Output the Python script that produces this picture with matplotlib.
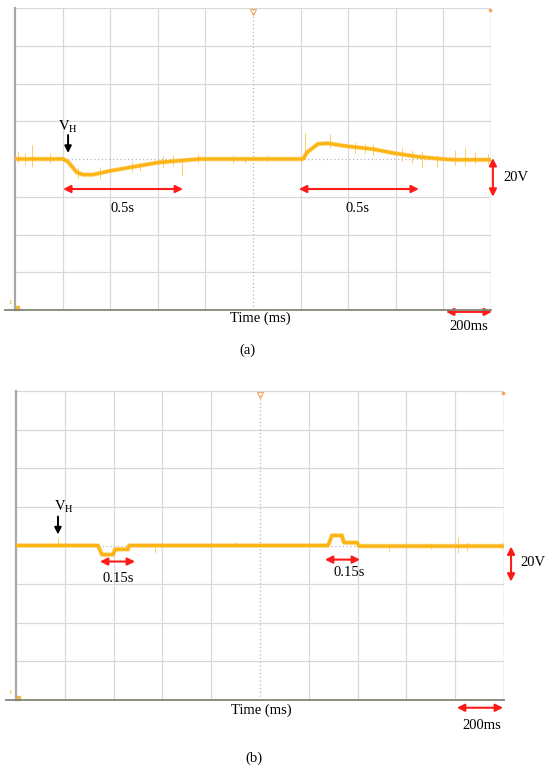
import matplotlib.pyplot as plt
import numpy as np

plt.rcParams['font.family'] = ['Liberation Serif', 'DejaVu Serif']
plt.rcParams['mathtext.fontset'] = 'stix'

# trace (a): time in ms, voltage offset in V (20 V / div, 200 ms / div)
t_a = [0, 202, 223, 260, 286, 328, 403, 605, 777, 1210, 1227, 1273, 1315,
       1399, 1500, 1597, 1693, 1794, 1850, 2000]
v_a = [0, 0, -1.5, -7.1, -8.3, -8.3, -6.2, -1.8, 0, 0, 3.5, 8.0, 8.3,
       6.7, 5.3, 3.0, 1.2, 0, -0.4, -0.4]

# noise spikes (a)
spk_t_a = [14, 42, 70, 147, 265, 357, 490, 525, 623, 665, 700, 770, 917, 966,
           1058, 1218, 1324, 1429, 1471, 1504, 1626, 1668, 1710, 1773, 1849,
           1891, 1933, 1987]
spk_hi_a = [4, 3, 7.4, 3, -4, -4.5, -1, -1.5, 1.5, 2, 0.5, 2.5, 2, 1.5,
            2, 14, 13, 9, 8.5, 8, 6, 5, 4, 2, 5, 6, 3.5, 2.5]
spk_lo_a = [-2, -3, -4.2, -2, -10, -10.5, -7, -6.5, -5, -3.5, -9, -2, -2, -2,
            -1.5, 0, 6, 3, 3, 2, -1, -2, -5, -4, -3, -3, -2.5, -2.5]

# trace (b)
t_b = [0, 336, 352, 398, 406, 459, 463, 1279, 1295, 1336, 1344, 1398, 1406, 2000]
v_b = [0, 0, -4.7, -4.7, -2.0, -2.0, 0, 0, 5.2, 5.2, 1.5, 1.5, -0.3, -0.3]

spk_t_b = [172, 570, 900, 1240, 1530, 1700, 1810, 1850, 1990]
spk_hi_b = [4, 1, 2, 1.5, 1, 1.5, 4.5, 2, 2]
spk_lo_b = [-1, -4, -1, -1, -3.5, -2, -4, -3, -2]

trace_col = '#FDB515'
red = '#ff1a1a'


def scope(ax, t, v, st, shi, slo):
    ax.set_xlim(0, 2000)
    ax.set_ylim(-80, 80)
    for x in range(200, 2000, 200):
        if x != 1000:
            ax.axvline(x, color='#d8d8d8', lw=0.9, zorder=1)
    ax.axvline(2000, color='#c2c2c2', lw=1.0, zorder=1)
    for y in range(-60, 81, 20):
        if y != 0:
            ax.axhline(y, color='#d8d8d8', lw=0.9, zorder=1)
    ax.axvline(1000, color='#b5b5b5', lw=0.9, ls=(0, (1, 2)), zorder=1)
    ax.axhline(0, color='#b5b5b5', lw=0.9, ls=(0, (1, 2)), zorder=1)
    ax.set_xticks([])
    ax.set_yticks([])
    for s in ['top', 'right']:
        ax.spines[s].set_visible(False)
    ax.spines['left'].set_color('#a8a8a8')
    ax.spines['left'].set_linewidth(1.6)
    ax.spines['bottom'].set_visible(False)
    ax.plot([-42, 2000], [-80, -80], color='#7d8777', lw=1.3, clip_on=False, zorder=5)
    ax.vlines(st, slo, shi, color=trace_col, lw=0.6, alpha=0.75, zorder=2)
    ax.plot(t, v, color=trace_col, lw=3.4, alpha=0.35, solid_joinstyle='round', zorder=3)
    ax.plot(t, v, color=trace_col, lw=2.4, solid_joinstyle='round', zorder=3)
    ax.plot([1000], [78], marker='v', ms=5, mfc='none', mec='#f5a65b', mew=0.8,
            clip_on=False, zorder=4)
    ax.plot([1996], [79], marker='s', ms=2, color='#f5a65b', clip_on=False)
    ax.text(-22, -76, '1', fontsize=5, color='#e8a200', ha='center', va='center')
    ax.plot([8], [-79], marker='s', ms=2.5, color='#f7b733', clip_on=False)


def harrow(ax, x0, x1, y, lw=1.5):
    ax.annotate('', xy=(x0, y), xytext=(x1, y),
                arrowprops=dict(arrowstyle='<|-|>', color=red, lw=lw,
                                mutation_scale=11, shrinkA=0, shrinkB=0),
                annotation_clip=False)


def varrow(ax, x, y0, y1):
    ax.annotate('', xy=(x, y0), xytext=(x, y1),
                arrowprops=dict(arrowstyle='<|-|>', color=red, lw=1.5,
                                mutation_scale=11, shrinkA=0, shrinkB=0),
                annotation_clip=False)


def darrow(ax, x, y0, y1):
    ax.annotate('', xy=(x, y1), xytext=(x, y0),
                arrowprops=dict(arrowstyle='-|>', color='black', lw=1.4,
                                mutation_scale=10, shrinkA=0, shrinkB=0),
                annotation_clip=False)


fig = plt.figure(figsize=(5.5, 7.7), dpi=100)
ax1 = fig.add_axes([15 / 550, 1 - 310 / 770, 476 / 550, 302 / 770])
ax2 = fig.add_axes([16 / 550, 1 - 700 / 770, 488 / 550, 309 / 770])

fs = 10.5

scope(ax1, t_a, v_a, spk_t_a, spk_hi_a, spk_lo_a)
darrow(ax1, 223, 12.7, 3.2)
ax1.text(223, 17, r'$\mathrm{V_H}$', fontsize=fs, ha='center', va='center')
harrow(ax1, 202, 706, -15.9)
ax1.text(450, -26, '0.5s', fontsize=fs, ha='center', va='center')
harrow(ax1, 1193, 1697, -15.9)
ax1.text(1437, -26, '0.5s', fontsize=fs, ha='center', va='center')
varrow(ax1, 2008, 0.5, -20)
ax1.text(2050, -10, '20V', fontsize=fs, ha='left', va='center')
harrow(ax1, 1811, 2004, -81)
ax1.text(1908, -88.5, '200ms', fontsize=fs, ha='center', va='center')
ax1.text(1029, -80.8, 'Time (ms)', fontsize=fs, ha='center', va='top')

scope(ax2, t_b, v_b, spk_t_b, spk_hi_b, spk_lo_b)
darrow(ax2, 172, 15, 5.7)
ax2.text(197, 20, r'$\mathrm{V_H}$', fontsize=fs, ha='center', va='center')
harrow(ax2, 344, 488, -8.3)
ax2.text(418, -17, '0.15s', fontsize=fs, ha='center', va='center')
harrow(ax2, 1266, 1410, -7.3)
ax2.text(1365, -14, '0.15s', fontsize=fs, ha='center', va='center')
varrow(ax2, 2029, -0.5, -18.7)
ax2.text(2066, -8.8, '20V', fontsize=fs, ha='left', va='center')
harrow(ax2, 1807, 1996, -84)
ax2.text(1910, -93, '200ms', fontsize=fs, ha='center', va='center')
ax2.text(1004, -82, 'Time (ms)', fontsize=fs, ha='center', va='top')

fig.text(247 / 550, 1 - 350 / 770, '(a)', fontsize=fs, ha='center', va='center')
fig.text(254 / 550, 1 - 758 / 770, '(b)', fontsize=fs, ha='center', va='center')

fig.savefig('out.png', dpi=100)
